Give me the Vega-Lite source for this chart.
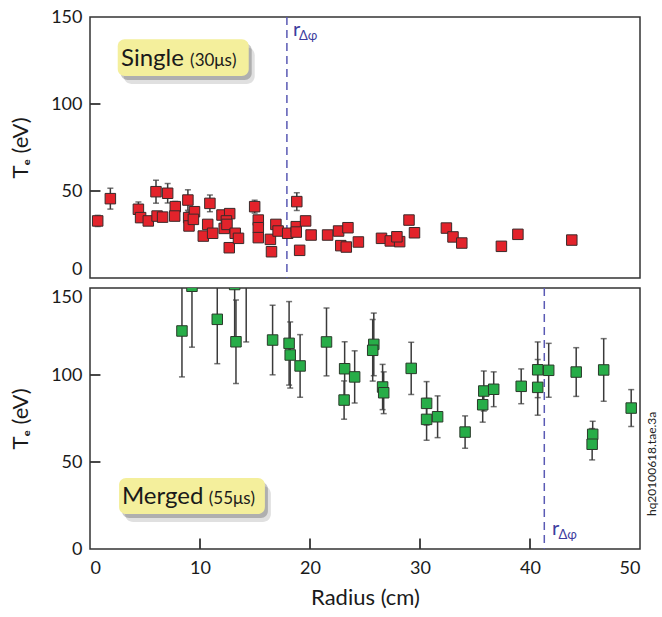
{
  "$schema": "https://vega.github.io/schema/vega-lite/v6.json",
  "background": "white",
  "padding": {"left": 8, "top": 7, "right": 2, "bottom": 5},
  "spacing": 10,
  "bounds": "flush",
  "config": {
    "font": "Lato",
    "view": {"stroke": "#333333", "strokeWidth": 1.5},
    "axis": {
      "domain": false,
      "grid": false,
      "ticks": false,
      "labelFont": "Lato",
      "labelFontSize": 18,
      "labelColor": "#1a1a1a",
      "titleFont": "Lato",
      "titleFontSize": 22,
      "titleFontWeight": "normal",
      "titleColor": "#1a1a1a"
    }
  },
  "datasets": {
    "one": [{}],
    "xticks": [{"v": 10}, {"v": 20}, {"v": 30}, {"v": 40}],
    "yticks": [{"v": 50}, {"v": 100}],
    "single": [
      {"r": 0.7, "T": 32.8, "err": 3.2}, {"r": 1.85, "T": 45.6, "err": 6},
      {"r": 4.4, "T": 39.5, "err": 4.2}, {"r": 4.6, "T": 34.7, "err": 2.5},
      {"r": 5.3, "T": 32.8, "err": 2}, {"r": 6.0, "T": 49.6, "err": 6.6},
      {"r": 6.1, "T": 35.6, "err": 2.5}, {"r": 6.6, "T": 35, "err": 2.5},
      {"r": 7.06, "T": 48.7, "err": 5.6}, {"r": 7.75, "T": 41, "err": 3},
      {"r": 7.7, "T": 35.6, "err": 2.5}, {"r": 8.9, "T": 44.8, "err": 5.9},
      {"r": 8.97, "T": 34.7, "err": 3.5}, {"r": 9.0, "T": 29.9, "err": 2},
      {"r": 9.5, "T": 38.1, "err": 2}, {"r": 9.4, "T": 33.7, "err": 2},
      {"r": 10.9, "T": 42.9, "err": 4.8}, {"r": 10.3, "T": 24.1, "err": 2},
      {"r": 10.7, "T": 30.8, "err": 2}, {"r": 11.15, "T": 25.7, "err": 2},
      {"r": 12.0, "T": 36.2, "err": 2}, {"r": 12.7, "T": 37, "err": 2},
      {"r": 12.4, "T": 32.8, "err": 2}, {"r": 12.2, "T": 28.5, "err": 2},
      {"r": 12.45, "T": 30.8, "err": 2}, {"r": 12.66, "T": 17.4, "err": 1.5},
      {"r": 13.2, "T": 25.7, "err": 2}, {"r": 13.5, "T": 22.8, "err": 2},
      {"r": 14.97, "T": 41, "err": 3.7}, {"r": 15.3, "T": 33.3, "err": 2.5},
      {"r": 15.3, "T": 28.9, "err": 2}, {"r": 15.3, "T": 23.2, "err": 2},
      {"r": 16.4, "T": 22.2, "err": 2}, {"r": 16.5, "T": 15.1, "err": 1.5},
      {"r": 16.9, "T": 30.8, "err": 2}, {"r": 17.1, "T": 27, "err": 2},
      {"r": 17.97, "T": 25.7, "err": 2}, {"r": 18.8, "T": 43.9, "err": 5.1},
      {"r": 18.75, "T": 29.5, "err": 2}, {"r": 18.75, "T": 26.4, "err": 2},
      {"r": 19.06, "T": 15.9, "err": 1.5}, {"r": 19.6, "T": 32.8, "err": 2},
      {"r": 20.1, "T": 24.7, "err": 2}, {"r": 21.6, "T": 24.7, "err": 2},
      {"r": 22.6, "T": 27, "err": 2}, {"r": 23.45, "T": 28.9, "err": 2},
      {"r": 22.8, "T": 18.6, "err": 1.5}, {"r": 23.3, "T": 17.8, "err": 1.5},
      {"r": 24.4, "T": 20.7, "err": 1.5}, {"r": 26.5, "T": 22.8, "err": 1.5},
      {"r": 27.3, "T": 21.3, "err": 1.5}, {"r": 28.15, "T": 20.9, "err": 1.5},
      {"r": 27.9, "T": 23.7, "err": 1.5}, {"r": 29.0, "T": 33.3, "err": 2.5},
      {"r": 29.5, "T": 26, "err": 1.5}, {"r": 32.4, "T": 28.7, "err": 1.5},
      {"r": 33.0, "T": 23.6, "err": 1.5}, {"r": 33.8, "T": 20.1, "err": 1.5},
      {"r": 37.4, "T": 18.2, "err": 1.5}, {"r": 38.9, "T": 25.1, "err": 1.5},
      {"r": 43.8, "T": 21.8, "err": 1.5}
    ],
    "merged": [
      {"r": 8.36, "T": 125.3, "err": 26.4}, {"r": 9.27, "T": 151, "err": 35},
      {"r": 11.57, "T": 132, "err": 25.5}, {"r": 13.15, "T": 152, "err": 31},
      {"r": 13.27, "T": 119.1, "err": 24}, {"r": 14.2, "T": 158, "err": 39},
      {"r": 16.6, "T": 120.1, "err": 20}, {"r": 18.1, "T": 118.2, "err": 24},
      {"r": 18.2, "T": 111.5, "err": 19}, {"r": 19.1, "T": 105.2, "err": 18},
      {"r": 21.5, "T": 119, "err": 19.5}, {"r": 23.15, "T": 103.6, "err": 15.5},
      {"r": 23.1, "T": 85.6, "err": 11}, {"r": 24.06, "T": 98.9, "err": 15},
      {"r": 25.8, "T": 117.6, "err": 18}, {"r": 25.7, "T": 114.2, "err": 17.7},
      {"r": 26.6, "T": 93.1, "err": 13}, {"r": 26.7, "T": 89.8, "err": 12},
      {"r": 29.2, "T": 103.8, "err": 15}, {"r": 30.6, "T": 83.7, "err": 12.5},
      {"r": 30.6, "T": 74.5, "err": 12}, {"r": 31.6, "T": 76, "err": 12},
      {"r": 34.1, "T": 67.2, "err": 9.3}, {"r": 35.8, "T": 90.8, "err": 11.5},
      {"r": 35.7, "T": 82.9, "err": 10}, {"r": 36.7, "T": 91.8, "err": 10},
      {"r": 39.2, "T": 93.5, "err": 10}, {"r": 40.7, "T": 103, "err": 16},
      {"r": 40.7, "T": 92.9, "err": 16}, {"r": 41.7, "T": 102.7, "err": 15.5},
      {"r": 44.2, "T": 101.7, "err": 14}, {"r": 45.7, "T": 65.9, "err": 7.5},
      {"r": 45.65, "T": 60.2, "err": 9}, {"r": 46.7, "T": 102.9, "err": 18},
      {"r": 49.2, "T": 81, "err": 10.6}
    ]
  },
  "vconcat": [
    {
      "width": 550,
      "height": 261,
      "layer": [
        {
          "data": {"name": "yticks"},
          "mark": {"type": "rule", "color": "#333333", "strokeWidth": 1.8},
          "encoding": {
            "x": {"datum": 0, "type": "quantitative", "scale": {"domain": [0, 50], "nice": false}, "axis": null},
            "x2": {"datum": 0.95},
            "y": {"field": "v", "type": "quantitative", "scale": {"domain": [0, 150], "nice": false}, "title": "Tₑ (eV)"}
          }
        },
        {
          "data": {"name": "one"},
          "mark": {"type": "rect", "fill": "#000000", "opacity": 0.12, "cornerRadius": 8, "xOffset": 6, "x2Offset": 6, "yOffset": 8, "y2Offset": 8},
          "encoding": {
            "x": {"datum": 2.52, "type": "quantitative", "axis": null},
            "x2": {"datum": 14.43},
            "y": {"datum": 137.2, "type": "quantitative"},
            "y2": {"datum": 116.1}
          }
        },
        {
          "data": {"name": "one"},
          "mark": {"type": "rect", "fill": "#000000", "opacity": 0.22, "cornerRadius": 7, "xOffset": 3, "x2Offset": 3, "yOffset": 4, "y2Offset": 4},
          "encoding": {
            "x": {"datum": 2.52, "type": "quantitative", "axis": null},
            "x2": {"datum": 14.43},
            "y": {"datum": 137.2, "type": "quantitative"},
            "y2": {"datum": 116.1}
          }
        },
        {
          "data": {"name": "one"},
          "mark": {"type": "rect", "fill": "#f4ef9c", "cornerRadius": 7},
          "encoding": {
            "x": {"datum": 2.52, "type": "quantitative", "axis": null},
            "x2": {"datum": 14.43},
            "y": {"datum": 137.2, "type": "quantitative"},
            "y2": {"datum": 116.1}
          }
        },
        {
          "data": {"name": "one"},
          "mark": {"type": "text", "text": "Single", "fontSize": 24, "align": "left", "baseline": "alphabetic", "color": "#1a1a1a", "font": "Lato"},
          "encoding": {
            "x": {"datum": 2.82, "type": "quantitative", "axis": null},
            "y": {"datum": 121.8, "type": "quantitative"}
          }
        },
        {
          "data": {"name": "one"},
          "mark": {"type": "text", "text": "(30μs)", "fontSize": 17, "align": "left", "baseline": "alphabetic", "color": "#1a1a1a", "font": "Lato"},
          "encoding": {
            "x": {"datum": 9.1, "type": "quantitative", "axis": null},
            "y": {"datum": 121.8, "type": "quantitative"}
          }
        },
        {
          "data": {"name": "one"},
          "mark": {"type": "rule", "color": "#5a5ab4", "strokeWidth": 1.5, "strokeDash": [8, 5]},
          "encoding": {
            "x": {"datum": 17.9, "type": "quantitative", "axis": null}
          }
        },
        {
          "data": {"name": "one"},
          "mark": {"type": "text", "text": "r", "fontSize": 20, "align": "left", "baseline": "alphabetic", "color": "#3d3d9e", "font": "Lato"},
          "encoding": {
            "x": {"datum": 18.45, "type": "quantitative", "axis": null},
            "y": {"datum": 139, "type": "quantitative"}
          }
        },
        {
          "data": {"name": "one"},
          "mark": {"type": "text", "text": "Δφ", "fontSize": 13, "align": "left", "baseline": "alphabetic", "color": "#3d3d9e", "font": "Lato"},
          "encoding": {
            "x": {"datum": 19.0, "type": "quantitative", "axis": null},
            "y": {"datum": 136.8, "type": "quantitative"}
          }
        },
        {
          "data": {"name": "single"},
          "mark": {"type": "errorbar", "ticks": {"size": 6}, "color": "#3a3a3a", "thickness": 1.5},
          "encoding": {
            "x": {"field": "r", "type": "quantitative", "axis": null},
            "y": {"field": "T", "type": "quantitative", "title": "Tₑ (eV)"},
            "yError": {"field": "err"}
          }
        },
        {
          "data": {"name": "single"},
          "mark": {"type": "square", "size": 110, "filled": true, "fill": "#e3232b", "stroke": "#3a2a2a", "strokeWidth": 1, "opacity": 1},
          "encoding": {
            "x": {"field": "r", "type": "quantitative", "axis": null},
            "y": {
              "field": "T", "type": "quantitative", "title": "Tₑ (eV)",
              "axis": {
                "title": "Tₑ (eV)",
                "values": [0, 50, 100, 150],
                "labelPadding": 8,
                "titlePadding": 18,
                "labelBaseline": {"condition": {"test": "datum.value == 0", "value": "bottom"}, "value": "middle"}
              }
            }
          }
        }
      ]
    },
    {
      "width": 550,
      "height": 261,
      "layer": [
        {
          "data": {"name": "yticks"},
          "mark": {"type": "rule", "color": "#333333", "strokeWidth": 1.8},
          "encoding": {
            "x": {"datum": 0, "type": "quantitative", "scale": {"domain": [0, 50], "nice": false}, "title": "Radius (cm)"},
            "x2": {"datum": 0.95},
            "y": {"field": "v", "type": "quantitative", "scale": {"domain": [0, 150], "nice": false}, "title": "Tₑ (eV)"}
          }
        },
        {
          "data": {"name": "xticks"},
          "mark": {"type": "rule", "color": "#333333", "strokeWidth": 1.8},
          "encoding": {
            "x": {"field": "v", "type": "quantitative", "title": "Radius (cm)"},
            "y": {"datum": 0, "type": "quantitative", "title": "Tₑ (eV)"},
            "y2": {"datum": 6}
          }
        },
        {
          "data": {"name": "one"},
          "mark": {"type": "rect", "fill": "#000000", "opacity": 0.12, "cornerRadius": 8, "xOffset": 6, "x2Offset": 6, "yOffset": 8, "y2Offset": 8},
          "encoding": {
            "x": {"datum": 2.64, "type": "quantitative"},
            "x2": {"datum": 15.9},
            "y": {"datum": 40.8, "type": "quantitative"},
            "y2": {"datum": 20.1}
          }
        },
        {
          "data": {"name": "one"},
          "mark": {"type": "rect", "fill": "#000000", "opacity": 0.22, "cornerRadius": 7, "xOffset": 3, "x2Offset": 3, "yOffset": 4, "y2Offset": 4},
          "encoding": {
            "x": {"datum": 2.64, "type": "quantitative"},
            "x2": {"datum": 15.9},
            "y": {"datum": 40.8, "type": "quantitative"},
            "y2": {"datum": 20.1}
          }
        },
        {
          "data": {"name": "one"},
          "mark": {"type": "rect", "fill": "#f4ef9c", "cornerRadius": 7},
          "encoding": {
            "x": {"datum": 2.64, "type": "quantitative"},
            "x2": {"datum": 15.9},
            "y": {"datum": 40.8, "type": "quantitative"},
            "y2": {"datum": 20.1}
          }
        },
        {
          "data": {"name": "one"},
          "mark": {"type": "text", "text": "Merged", "fontSize": 24, "align": "left", "baseline": "alphabetic", "color": "#1a1a1a", "font": "Lato"},
          "encoding": {
            "x": {"datum": 2.9, "type": "quantitative"},
            "y": {"datum": 26, "type": "quantitative"}
          }
        },
        {
          "data": {"name": "one"},
          "mark": {"type": "text", "text": "(55μs)", "fontSize": 17, "align": "left", "baseline": "alphabetic", "color": "#1a1a1a", "font": "Lato"},
          "encoding": {
            "x": {"datum": 10.8, "type": "quantitative"},
            "y": {"datum": 26, "type": "quantitative"}
          }
        },
        {
          "data": {"name": "one"},
          "mark": {"type": "rule", "color": "#5a5ab4", "strokeWidth": 1.5, "strokeDash": [8, 5]},
          "encoding": {
            "x": {"datum": 41.3, "type": "quantitative"}
          }
        },
        {
          "data": {"name": "one"},
          "mark": {"type": "text", "text": "r", "fontSize": 20, "align": "left", "baseline": "alphabetic", "color": "#3d3d9e", "font": "Lato"},
          "encoding": {
            "x": {"datum": 42.0, "type": "quantitative"},
            "y": {"datum": 8.0, "type": "quantitative"}
          }
        },
        {
          "data": {"name": "one"},
          "mark": {"type": "text", "text": "Δφ", "fontSize": 13, "align": "left", "baseline": "alphabetic", "color": "#3d3d9e", "font": "Lato"},
          "encoding": {
            "x": {"datum": 42.6, "type": "quantitative"},
            "y": {"datum": 6.0, "type": "quantitative"}
          }
        },
        {
          "data": {"name": "one"},
          "mark": {"type": "text", "text": "hq20100618.tae.3a", "fontSize": 12, "angle": 270, "align": "center", "baseline": "middle", "color": "#222222", "font": "Lato"},
          "encoding": {
            "x": {"datum": 51.1, "type": "quantitative"},
            "y": {"datum": 48.9, "type": "quantitative"}
          }
        },
        {
          "data": {"name": "merged"},
          "mark": {"type": "errorbar", "ticks": {"size": 6}, "color": "#3a3a3a", "thickness": 1.5, "clip": true},
          "encoding": {
            "x": {"field": "r", "type": "quantitative", "title": "Radius (cm)"},
            "y": {"field": "T", "type": "quantitative", "title": "Tₑ (eV)"},
            "yError": {"field": "err"}
          }
        },
        {
          "data": {"name": "merged"},
          "mark": {"type": "square", "size": 110, "filled": true, "fill": "#27ad48", "stroke": "#2a3a2a", "strokeWidth": 1, "opacity": 1, "clip": true},
          "encoding": {
            "x": {
              "field": "r", "type": "quantitative", "title": "Radius (cm)",
              "axis": {"title": "Radius (cm)", "values": [0, 10, 20, 30, 40, 50], "labelPadding": 10, "titlePadding": 10}
            },
            "y": {
              "field": "T", "type": "quantitative", "title": "Tₑ (eV)",
              "axis": {
                "title": "Tₑ (eV)",
                "values": [0, 50, 100, 150],
                "labelPadding": 8,
                "titlePadding": 18,
                "labelBaseline": {"condition": {"test": "datum.value == 150", "value": "top"}, "value": "middle"}
              }
            }
          }
        }
      ]
    }
  ]
}
